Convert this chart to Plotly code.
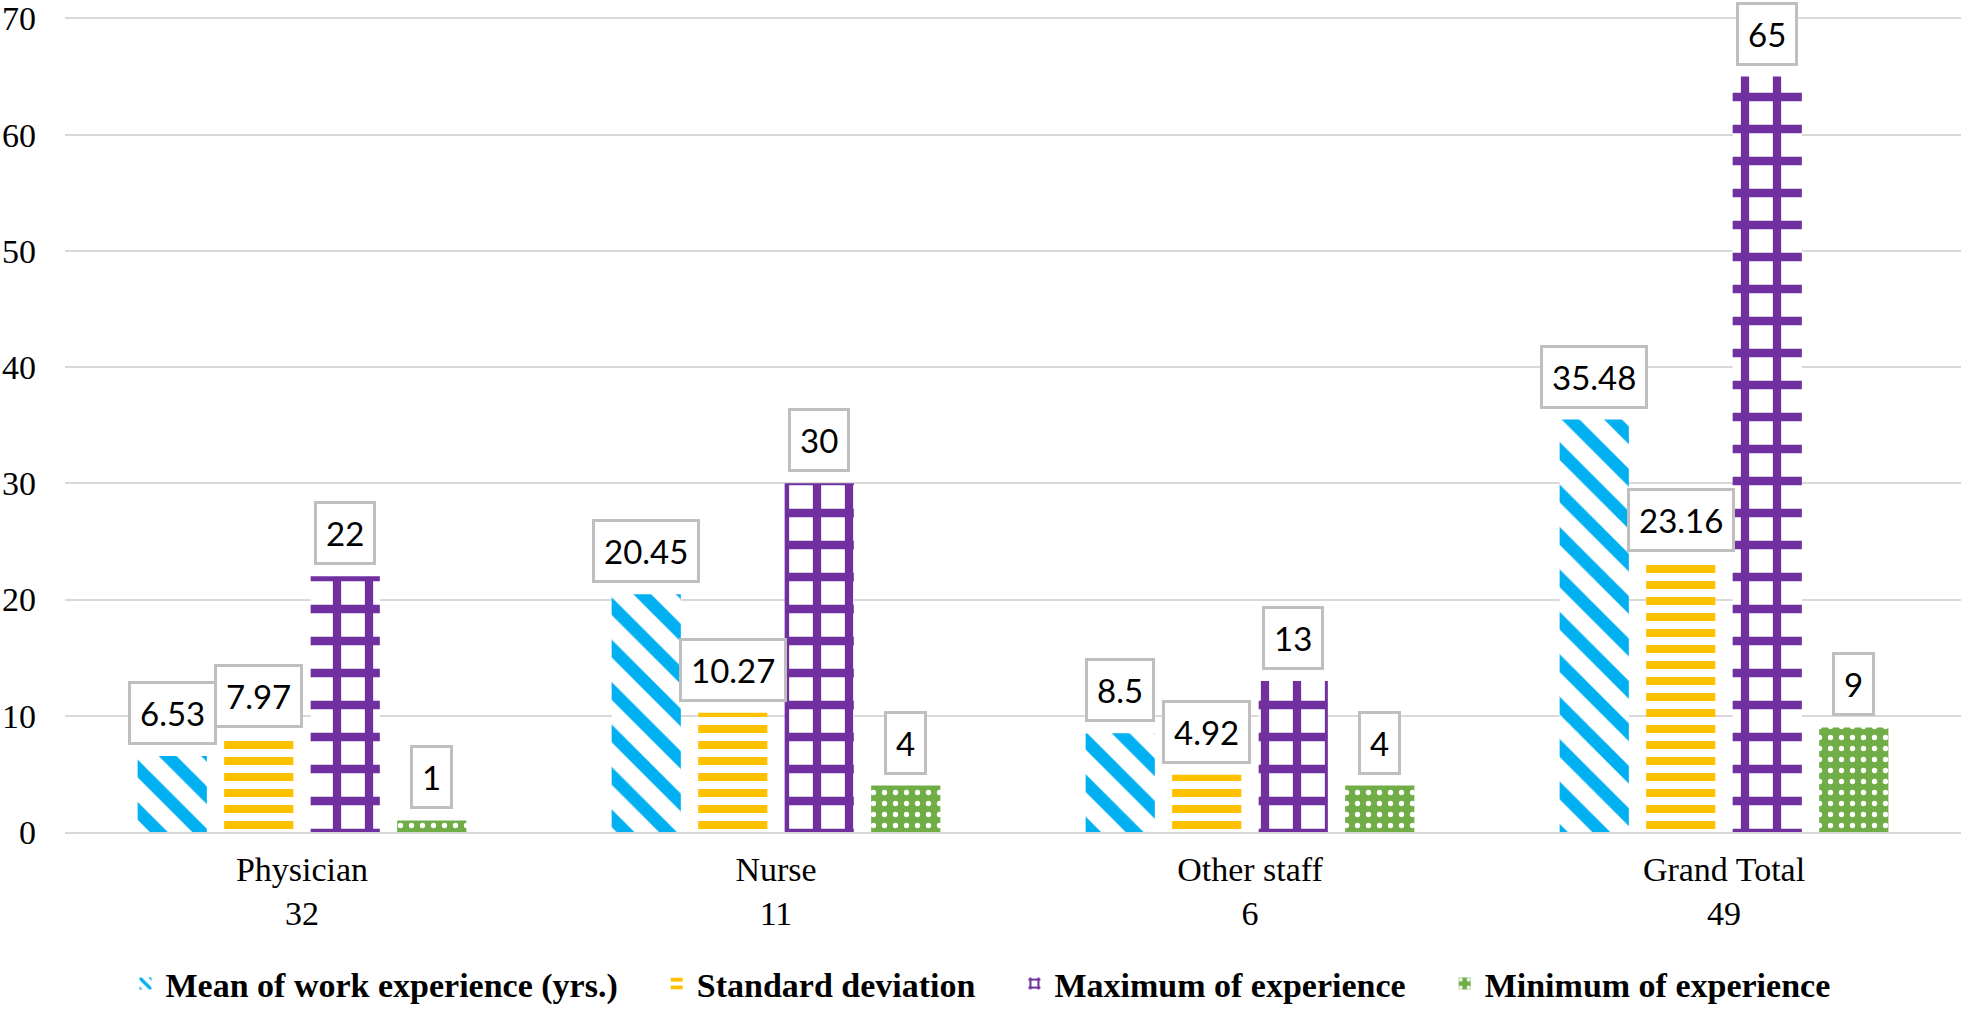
import plotly.graph_objects as go

categories = ["Physician<br>32", "Nurse<br>11", "Other staff<br>6", "Grand Total<br>49"]
series_names = ["Mean of work experience (yrs.)", "Standard deviation",
                "Maximum of experience", "Minimum of experience"]
mean_vals = [6.53, 20.45, 8.5, 35.48]
sd_vals = [7.97, 10.27, 4.92, 23.16]
max_vals = [22, 30, 13, 65]
min_vals = [1, 4, 4, 9]
label_texts = [
    ["6.53", "20.45", "8.5", "35.48"],
    ["7.97", "10.27", "4.92", "23.16"],
    ["22", "30", "13", "65"],
    ["1", "4", "4", "9"],
]

W, H = 1961, 1013
M_L, M_R, M_T, M_B = 65, 0, 17, 181
BARGAP, BARGROUPGAP = 0.27, 0.2
SERIF = "Liberation Serif, Times New Roman, serif"

patterns = [
    dict(shape="\\", fgcolor="#00B0F0", bgcolor="white", size=30, solidity=0.42),
    dict(shape="-", fgcolor="#FFC000", bgcolor="white", size=16, solidity=0.5),
    dict(shape="+", fgcolor="#7030A0", bgcolor="white", size=32, solidity=0.45),
    dict(shape=".", fgcolor="white", bgcolor="#70AD47", size=11, solidity=0.18),
]
all_vals = [mean_vals, sd_vals, max_vals, min_vals]

fig = go.Figure()
n = len(series_names)
for i, (name, vals, pat) in enumerate(zip(series_names, all_vals, patterns)):
    pad = "\u00a0" * 4 if i < n - 1 else ""
    fig.add_trace(go.Bar(
        x=categories, y=vals, name="<b>" + name + "</b>" + pad,
        marker=dict(color=pat["fgcolor"] if pat["shape"] != "." else pat["bgcolor"],
                    pattern=dict(fillmode="replace", **pat),
                    line=dict(width=0)),
    ))

# data labels in boxes, positioned over each bar of the group
plot_w = W - M_L - M_R
cat_w = plot_w / len(categories)
slot = cat_w * (1 - BARGAP) / n
annotations = []
for si, (vals, texts) in enumerate(zip(all_vals, label_texts)):
    off = (si - (n - 1) / 2) * slot
    for c, v, t in zip(categories, vals, texts):
        annotations.append(dict(
            x=c, y=v, xref="x", yref="y", text=t, showarrow=False,
            xanchor="center", yanchor="bottom", xshift=off, yshift=11,
            font=dict(family="Lato", size=33, color="black"),
            bgcolor="white", bordercolor="#BFBFBF", borderwidth=3, borderpad=9,
        ))

fig.update_layout(
    width=W, height=H,
    margin=dict(l=M_L, r=M_R, t=M_T, b=M_B, autoexpand=False),
    paper_bgcolor="white", plot_bgcolor="white",
    barmode="group", bargap=BARGAP, bargroupgap=BARGROUPGAP,
    font=dict(family=SERIF, size=34, color="black"),
    showlegend=True,
    legend=dict(orientation="h", x=0.5, xanchor="center", xref="container",
                y=0.0, yanchor="bottom", yref="container",
                font=dict(family=SERIF, size=34, color="black"),
                itemwidth=30),
    annotations=annotations,
)
fig.update_yaxes(range=[0, 70.12], tick0=0, dtick=10, showgrid=True, gridcolor="#D9D9D9",
                 gridwidth=2, zeroline=False, showline=False, ticks="", ticklabelstandoff=28,
                 automargin=False,
                 tickfont=dict(family=SERIF, size=34, color="black"))
fig.update_xaxes(showline=True, linecolor="#D9D9D9", linewidth=2, ticks="",
                 ticklabelstandoff=6, automargin=False,
                 tickfont=dict(family=SERIF, size=34, color="black"))

fig.write_html("out.html", config={"displayModeBar": False},
               post_script="document.body.style.margin='0';")
